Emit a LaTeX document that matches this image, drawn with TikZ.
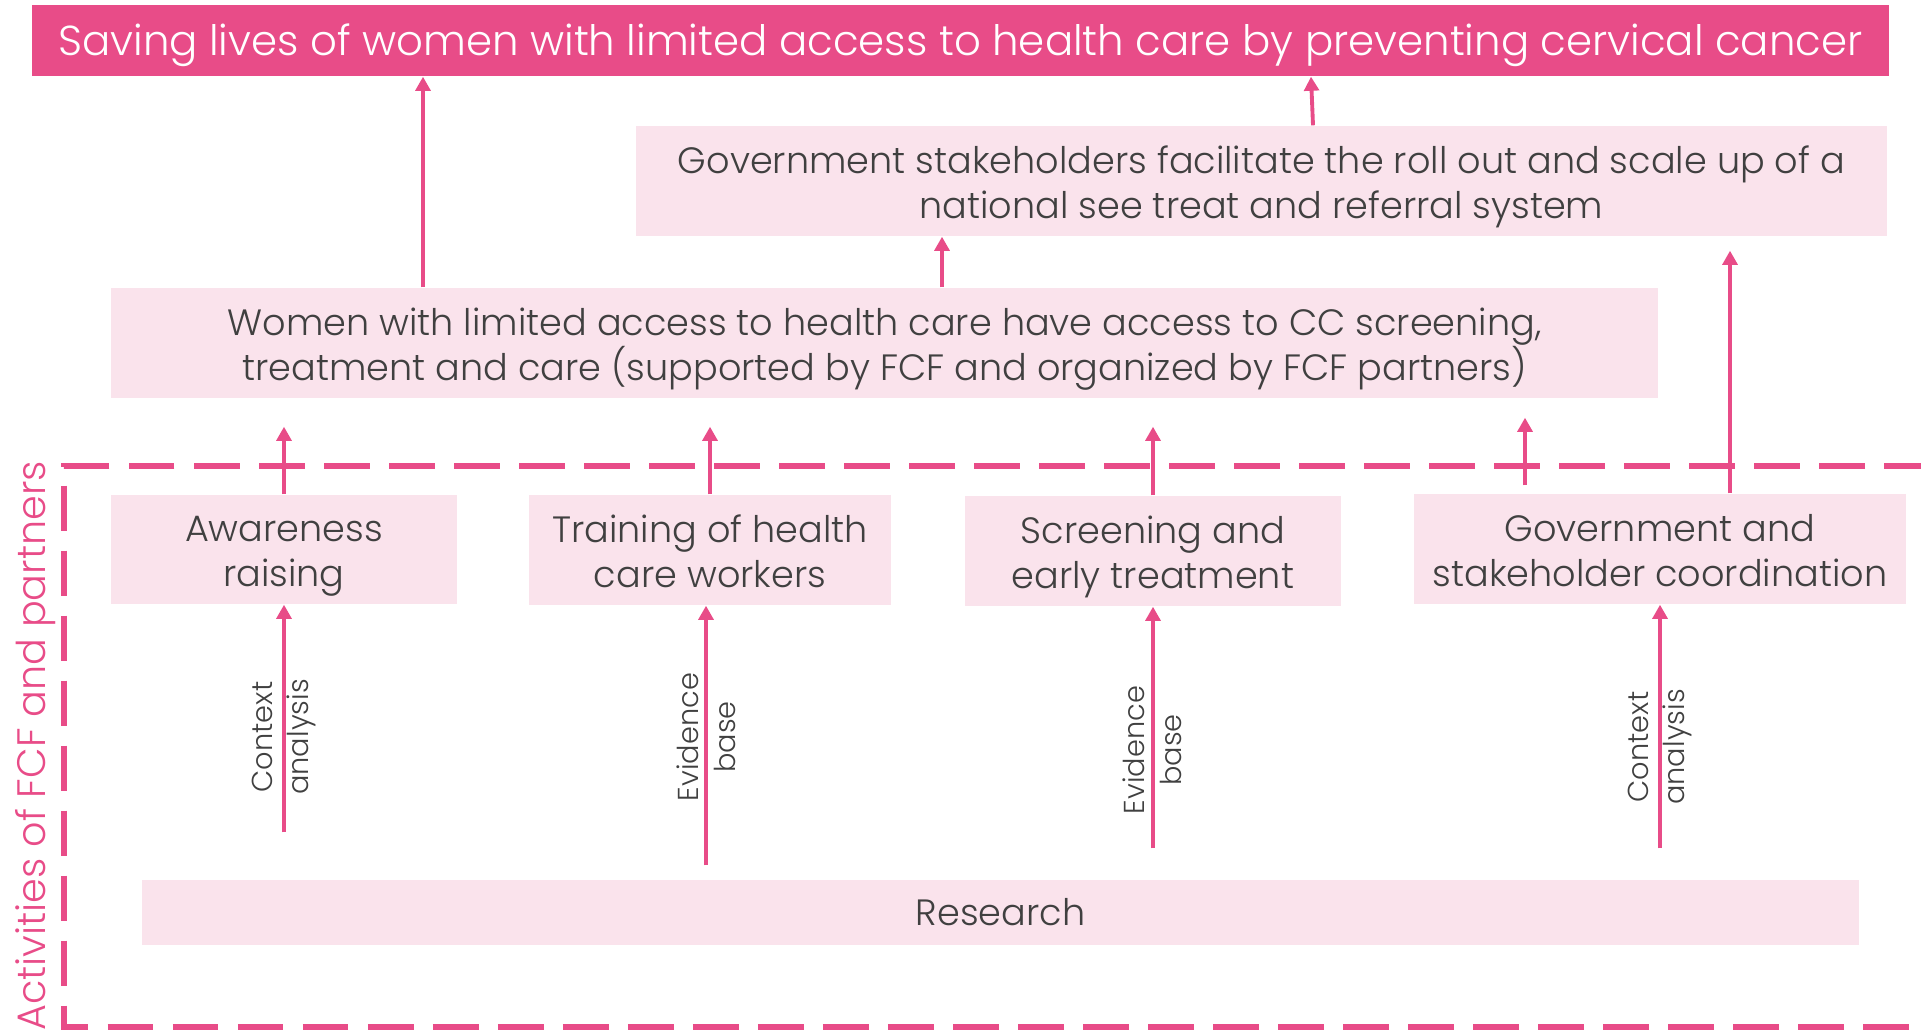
\documentclass[tikz,border=0pt]{standalone}
\usepackage{fontspec}
\setmainfont{Poppins}[UprightFont=* Light]
\usetikzlibrary{arrows.meta}
\definecolor{fcfpink}{RGB}{232,76,136}
\definecolor{fcflight}{RGB}{250,227,236}
\definecolor{fcfgray}{RGB}{64,64,64}
\tikzstyle{goal} = [rectangle, fill=fcfpink, text=white, inner sep=0pt, text height=8.3pt, text depth=0pt, font=\fontsize{11.92}{14}\selectfont]
\tikzstyle{outcome} = [rectangle, fill=fcflight, text=fcfgray, align=center, inner sep=0pt, text height=24.1pt, text depth=3pt, font=\fontsize{10.42}{12.8}\selectfont]
\tikzstyle{activity} = [outcome]
\tikzstyle{basis} = [rotate=90, align=center, text=fcfgray, inner sep=0pt, font=\fontsize{8.2}{10.5}\selectfont]
\tikzset{edge/.style = {
    draw=fcfpink, line width=1.1pt,
    -{Triangle[length=4pt,width=4.2pt]},
  }
}

\begin{document}
\begin{tikzpicture}[x=0.1mm, y=-0.1mm]
            \useasboundingbox (0,0) rectangle (1921,1030);
            % outcomes
            \node[goal, minimum width=185.7mm, minimum height=7.1mm] (impact) at (960.5,40.5) {Saving lives of women with limited access to health care by preventing cervical cancer};
            \node[outcome, minimum width=125.1mm, minimum height=11mm] (system) at (1261.5,181) {Government stakeholders facilitate the roll out and scale up of a\\national see treat and referral system};
            \node[outcome, minimum width=154.7mm, minimum height=11mm] (access) at (884.5,343) {Women with limited access to health care have access to CC screening,\\treatment and care (supported by FCF and organized by FCF partners)};

            % activities
            \node[activity, minimum width=34.6mm, minimum height=10.9mm] (aware) at (284,549.5) {Awareness\\raising};
            \node[activity, minimum width=36.2mm, minimum height=11mm] (train) at (710,550) {Training of health\\care workers};
            \node[activity, minimum width=37.6mm, minimum height=11mm] (screen) at (1153,551) {Screening and\\early treatment};
            \node[activity, minimum width=49.2mm, minimum height=11mm] (gov) at (1660,549) {Government and\\stakeholder coordination};
            \node[activity, text height=7.2pt, text depth=0pt, minimum width=171.7mm, minimum height=6.5mm] (research) at (1000.5,912.5) {Research};

            % frame round the activities
            \draw[fcfpink, line width=1.7pt, dash pattern=on 13pt off 5.5pt] (1930,466) -| (64,1027) -- (1930,1027);
            \node[rotate=90, text=fcfpink, inner sep=0pt, font=\fontsize{11.3}{14}\selectfont] (scope) at (36,746) {Activities of FCF and partners};

            % research lines
            \node[basis] (ctx1) at (284,737) {Context\\analysis};
            \node[basis] (evd1) at (706,737) {Evidence\\base};
            \node[basis] (evd2) at (1152,750) {Evidence\\base};
            \node[basis] (ctx2) at (1660,747) {Context\\analysis};

            % result lines
            \draw[edge] (access.north -| 423,0) -- (impact.south -| 423,0);
            \draw[edge] (access.north -| 942,0) -- (system.south -| 942,0);
            \draw[edge] (system.north -| 1313,0) -- (impact.south -| 1311,0);
            \draw[edge, shorten >=1.4mm] (gov.north -| 1730,0) -- (system.south -| 1730,0);

            \draw[edge, shorten >=2.8mm] (aware.north) -- (access.south -| aware.north);
            \draw[edge, shorten >=2.8mm] (train.north) -- (access.south -| train.north);
            \draw[edge, shorten >=2.8mm] (screen.north) -- (access.south -| screen.north);
            \draw[edge, shorten <=0.8mm, shorten >=1.9mm] (gov.north -| 1525,0) -- (access.south -| 1525,0);

            \draw[edge, shorten <=4.7mm] (research.north -| aware.south) -- (aware.south);
            \draw[edge, shorten <=1.4mm] (research.north -| 706,0) -- (train.south -| 706,0);
            \draw[edge, shorten <=3.1mm] (research.north -| screen.south) -- (screen.south);
            \draw[edge, shorten <=3.1mm] (research.north -| gov.south) -- (gov.south);
          \end{tikzpicture}
\end{document}
